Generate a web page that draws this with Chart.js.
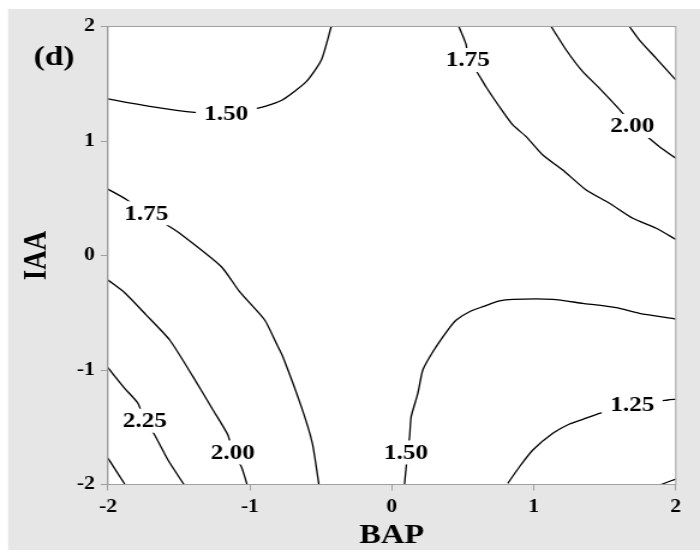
<!DOCTYPE html>
<html>
<head>
<meta charset="utf-8">
<script src="https://cdn.jsdelivr.net/npm/chart.js@4"></script>
<style>
  body { margin: 0; background: #fff; }
  #wrap { transform: scaleX(1.2007); transform-origin: 0 0; width: 583px; height: 551px; }
</style>
</head>
<body>
<div id="wrap"><canvas id="contour" width="583" height="551"></canvas></div>
<script>
// contour lines, BAP (x) vs IAA (y)
const c150a_x = [-2, -1.694, -1.39, -1.166, -0.92, -0.772, -0.603, -0.497, -0.427];
const c150a_y = [1.367, 1.30, 1.25, 1.242, 1.294, 1.358, 1.518, 1.707, 2.0];
const c175a_x = [-2, -1.87, -1.73, -1.596, -1.495, -1.201, -1.073, -0.896, -0.814, -0.768, -0.638, -0.56, -0.514];
const c175a_y = [0.58, 0.49, 0.369, 0.275, 0.194, -0.098, -0.316, -0.563, -0.767, -0.884, -1.32, -1.64, -2.0];
const c200a_x = [-2, -1.882, -1.73, -1.565, -1.401, -1.26, -1.155, -1.12, -1.06, -1.02];
const c200a_y = [-0.214, -0.325, -0.52, -0.738, -1.058, -1.349, -1.568, -1.72, -1.845, -2.0];
const c225a_x = [-2, -1.882, -1.789, -1.74, -1.678, -1.577, -1.465];
const c225a_y = [-0.98, -1.16, -1.29, -1.443, -1.553, -1.786, -2.0];
const c250a_x = [-2, -1.88];
const c250a_y = [-1.77, -2.0];
const c150b_x = [0.089, 0.101, 0.125, 0.136, 0.183, 0.218, 0.289, 0.394, 0.454, 0.547, 0.641, 0.758, 0.852, 1.134, 1.345, 1.58, 1.744, 2.0];
const c150b_y = [-2.0, -1.845, -1.583, -1.408, -1.204, -1.0, -0.84, -0.651, -0.563, -0.491, -0.447, -0.397, -0.383, -0.383, -0.418, -0.456, -0.505, -0.555];
const c125_x = [0.817, 0.899, 0.993, 1.134, 1.251, 1.345, 1.463, 1.693, 1.944, 2.0];
const c125_y = [-1.99, -1.845, -1.699, -1.553, -1.472, -1.431, -1.378, -1.306, -1.262, -1.256];
const c100_x = [1.897, 2.0];
const c100_y = [-2.0, -1.952];
const c175b_x = [0.472, 0.524, 0.535, 0.594, 0.665, 0.782, 0.852, 0.946, 1.063, 1.204, 1.369, 1.533, 1.697, 1.862, 2.0];
const c175b_y = [2.0, 1.838, 1.707, 1.614, 1.469, 1.256, 1.14, 1.038, 0.878, 0.747, 0.572, 0.456, 0.325, 0.238, 0.141];
const c200b_x = [1.122, 1.228, 1.345, 1.463, 1.627, 1.693, 1.803, 1.885, 2.0];
const c200b_y = [2.0, 1.795, 1.605, 1.46, 1.242, 1.131, 1.032, 0.95, 0.849];
const c225b_x = [1.674, 1.744, 1.862, 2.0];
const c225b_y = [2.0, 1.882, 1.722, 1.533];

// contour level labels
const labelText = ['1.50', '1.75', '2.00', '2.25', '1.50', '1.25', '1.75', '2.00'];
const labelX = [-1.166, -1.73, -1.12, -1.74, 0.10, 1.693, 0.535, 1.693];
const labelY = [1.242, 0.369, -1.72, -1.443, -1.72, -1.306, 1.707, 1.131];

const tickVals = [-2, -1, 0, 1, 2];

const lines = [
  [c150a_x, c150a_y], [c175a_x, c175a_y], [c200a_x, c200a_y], [c225a_x, c225a_y],
  [c250a_x, c250a_y], [c150b_x, c150b_y], [c125_x, c125_y], [c100_x, c100_y],
  [c175b_x, c175b_y], [c200b_x, c200b_y], [c225b_x, c225b_y]
];

const serif = '"Liberation Serif", "Times New Roman", serif';

const decor = {
  id: 'decor',
  beforeDraw(chart) {
    const ctx = chart.ctx;
    const a = chart.chartArea;
    ctx.save();
    ctx.fillStyle = '#e6e6e6';
    ctx.fillRect(6.7, 9, chart.width - 6.7, 541);
    ctx.fillStyle = '#fff';
    ctx.fillRect(a.left, a.top, a.right - a.left, a.bottom - a.top);
    ctx.restore();
  },
  afterDatasetsDraw(chart) {
    const {ctx, scales: {x, y}} = chart;
    const a = chart.chartArea;
    ctx.save();
    ctx.font = 'bold 21px ' + serif;
    ctx.textAlign = 'center';
    ctx.textBaseline = 'middle';
    labelText.forEach((t, i) => {
      const px = x.getPixelForValue(labelX[i]);
      const py = y.getPixelForValue(labelY[i]);
      const w = ctx.measureText(t).width + 14;
      ctx.fillStyle = '#fff';
      ctx.fillRect(px - w / 2, py - 12, w, 24);
      ctx.fillStyle = '#000';
      ctx.fillText(t, px, py + 1);
    });
    ctx.strokeStyle = '#a0a0a0';
    ctx.lineWidth = 1;
    ctx.strokeRect(a.left, a.top, a.right - a.left, a.bottom - a.top);
    ctx.fillStyle = '#000';
    ctx.font = 'bold 28px ' + serif;
    ctx.fillText('(d)', 45, 58);
    ctx.restore();
  }
};

const axis = (title, fitKey, fitVal, pad) => ({
  type: 'linear',
  min: -2,
  max: 2,
  afterBuildTicks: s => { s.ticks = tickVals.map(v => ({ value: v })); },
  afterFit: s => { s[fitKey] = fitVal; },
  grid: { drawOnChartArea: false, drawTicks: true, tickLength: 6, color: '#a0a0a0' },
  border: { display: true, color: '#a0a0a0' },
  ticks: { color: '#000', padding: pad, callback: v => String(v),
           font: { family: serif, size: 18, weight: 'bold' } },
  title: { display: true, text: title, color: '#000', padding: 0,
           font: { family: serif, size: 27, weight: 'bold', lineHeight: 1 } }
});

new Chart(document.getElementById('contour'), {
  type: 'scatter',
  data: {
    datasets: lines.map(([xs, ys]) => ({
      data: xs.map((v, i) => ({ x: v, y: ys[i] })),
      showLine: true,
      borderColor: '#000',
      borderWidth: 1.3,
      pointRadius: 0,
      tension: 0.2
    }))
  },
  options: {
    responsive: false,
    animation: false,
    layout: { padding: { left: 17.5, top: 26.5, right: 20.2, bottom: 1 } },
    plugins: { legend: { display: false }, tooltip: { enabled: false } },
    scales: {
      x: axis('BAP', 'height', 65.5, 6),
      y: axis('IAA', 'width', 72.4, 5)
    }
  },
  plugins: [decor]
});
</script>
</body>
</html>
